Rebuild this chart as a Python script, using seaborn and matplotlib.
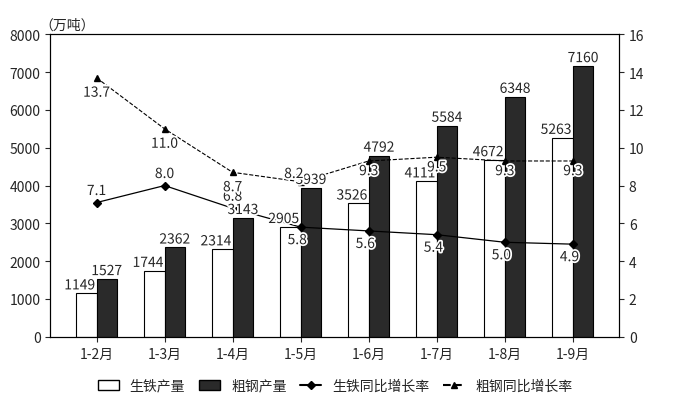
import matplotlib
matplotlib.use("Agg")
import matplotlib.pyplot as plt
import matplotlib.patheffects as pe
import seaborn as sns
import pandas as pd
import numpy as np

months = ["1-2月","1-3月","1-4月","1-5月","1-6月","1-7月","1-8月","1-9月"]
iron = [1149,1744,2314,2905,3526,4111,4672,5263]
steel = [1527,2362,3143,3939,4792,5584,6348,7160]
iron_g = [7.1,8.0,6.8,5.8,5.6,5.4,5.0,4.9]
steel_g = [13.7,11.0,8.7,8.2,9.3,9.5,9.3,9.3]

sns.set_style("ticks")
plt.rcParams['font.family'] = ['Noto Sans CJK SC', 'DejaVu Sans']

fig = plt.figure(figsize=(6.98,4.06), dpi=100)
ax = fig.add_axes([0.072, 0.168, 0.815, 0.745])
df = pd.DataFrame({"m": months*2, "v": iron+steel,
                   "s": ["生铁产量"]*8 + ["粗钢产量"]*8})
sns.barplot(data=df, x="m", y="v", hue="s", palette=["white","#2a2a2a"],
            edgecolor="black", linewidth=0.8, width=0.6, ax=ax, legend=False)
ax.set_ylim(0,8000); ax.set_yticks(range(0,8001,1000))
ax.set_xlabel(""); ax.set_ylabel("")
ax.text(-0.02, 1.02, "（万吨）", transform=ax.transAxes, ha="left", fontsize=10)
ax2 = ax.twinx()
stroke = [pe.withStroke(linewidth=2.5, foreground="white")]
for i,(a,b) in enumerate(zip(iron,steel)):
    ax2.text(i-0.02, a/500+0.05, str(a), ha="right", va="bottom", fontsize=10, path_effects=stroke)
    ax2.text(i+0.15, b/500+0.05, str(b), ha="center", va="bottom", fontsize=10, path_effects=stroke)
x = np.arange(8)
ax2.plot(x, iron_g, "-", color="black", marker="D", ms=4, lw=0.9)
ax2.plot(x, steel_g, "--", color="black", marker="^", ms=5, lw=0.8)
for i,(a,b) in enumerate(zip(iron_g,steel_g)):
    if i < 3:
        ax2.text(i, a+0.4, f"{a:.1f}", ha="center", fontsize=10, path_effects=stroke)
    else:
        ax2.text(i-0.05, a-0.9, f"{a:.1f}", ha="center", fontsize=10, path_effects=stroke)
    if i < 3:
        ax2.text(i, b-1.0, f"{b:.1f}", ha="center", fontsize=10, path_effects=stroke)
    elif i == 3:
        ax2.text(i-0.1, b+0.2, f"{b:.1f}", ha="center", fontsize=10, path_effects=stroke)
    else:
        ax2.text(i, b-0.75, f"{b:.1f}", ha="center", fontsize=10, path_effects=stroke)
ax2.set_ylim(0,16); ax2.set_yticks(range(0,17,2))
for a in (ax,ax2):
    a.tick_params(labelsize=10)
    for s in a.spines.values(): s.set_color("black")
from matplotlib.patches import Patch
from matplotlib.lines import Line2D
h = [Patch(fc="white",ec="black",label="生铁产量"), Patch(fc="#2a2a2a",ec="black",label="粗钢产量"),
     Line2D([],[],color="black",marker="D",ms=4,label="生铁同比增长率"),
     Line2D([],[],color="black",ls="--",marker="^",ms=5,label="粗钢同比增长率")]
fig.legend(handles=h, loc="lower center", ncol=4, frameon=False, fontsize=10,
           bbox_to_anchor=(0.48,0.0), handlelength=1.5, columnspacing=1.0)
fig.savefig("out.png", dpi=100)
